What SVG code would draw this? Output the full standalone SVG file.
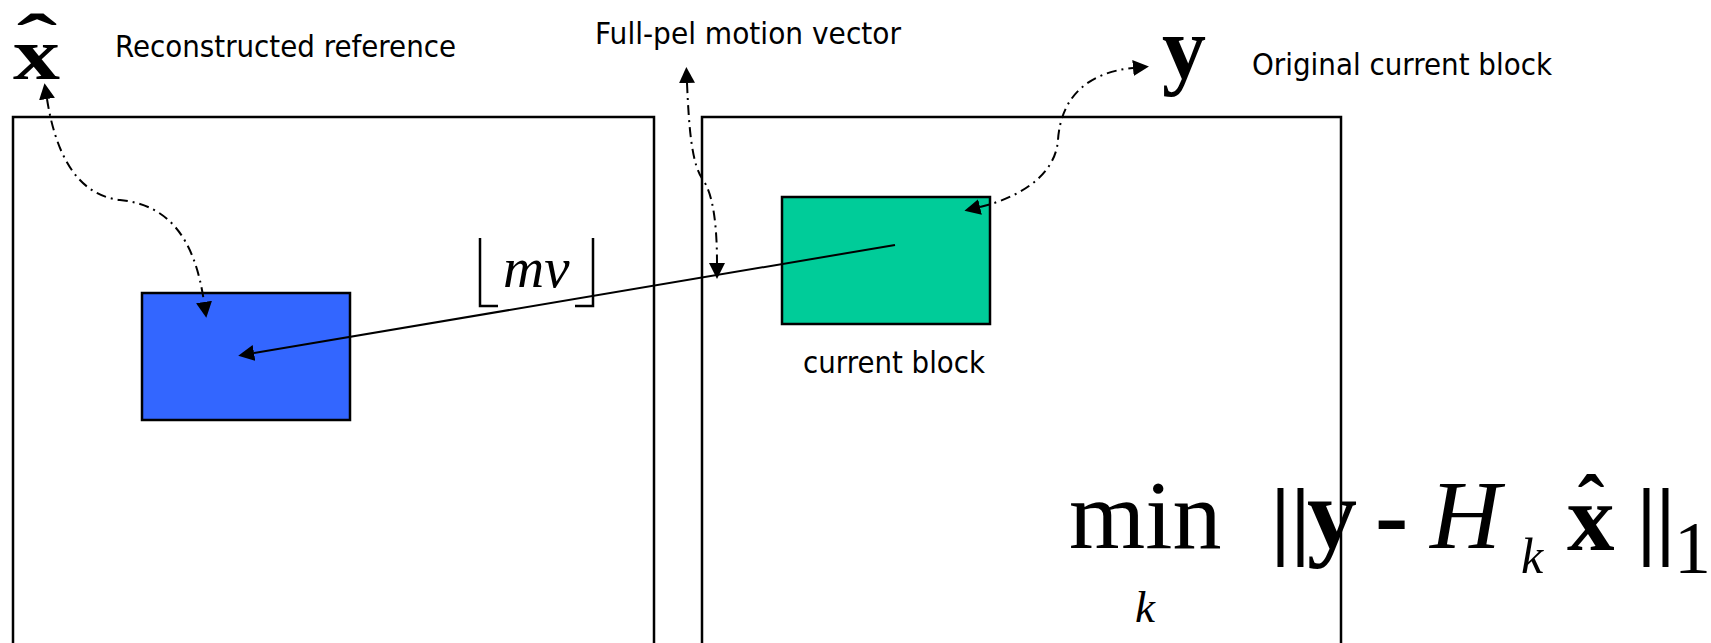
<svg xmlns="http://www.w3.org/2000/svg" width="1711" height="643" viewBox="0 0 1711 643">
<style>
.frame{fill:none;stroke:#000;stroke-width:2.5}
.blk{stroke:#000;stroke-width:2.5}
.lbl{font-family:"DejaVu Sans","Liberation Sans",sans-serif;font-size:31px;fill:#000}
.ser{font-family:"Liberation Serif","Times New Roman",serif;fill:#000}
.bold{font-weight:bold}
.it{font-style:italic}
.dd{fill:none;stroke:#000;stroke-width:2;stroke-dasharray:10 5 2 5}
.solid{fill:none;stroke:#000;stroke-width:2}
.br{fill:none;stroke:#000;stroke-width:2.5}
</style>
<defs>
<marker id="ah" viewBox="0 0 16 16" refX="0" refY="8" markerWidth="16" markerHeight="16" markerUnits="userSpaceOnUse" orient="auto-start-reverse">
<path d="M0,0 L16,8 L0,16 z" fill="#000"/>
</marker>
</defs>
<rect width="1711" height="643" fill="#fff"/>

<g id="ref-frame"><rect class="frame" x="13" y="117" width="641" height="560"/></g>
<g id="cur-frame"><rect class="frame" x="702" y="117" width="639" height="560"/></g>

<g id="ref-block"><rect class="blk" x="142" y="293" width="208" height="127" fill="#3366FF"/></g>
<g id="cur-block"><rect class="blk" x="782" y="197" width="208" height="127" fill="#00CC99"/>
<text class="lbl" x="803" y="373" textLength="182" lengthAdjust="spacingAndGlyphs">current block</text></g>

<g id="xhat-label">
<text class="ser bold" x="0" y="0" font-size="74" transform="translate(13,79) scale(1.27,1)">x</text>
<text class="ser bold" x="0" y="0" font-size="90" text-anchor="middle" transform="translate(37,64) scale(1.35,0.8)">ˆ</text>
<text class="lbl" x="115" y="57" textLength="341" lengthAdjust="spacingAndGlyphs">Reconstructed reference</text>
</g>

<g id="fullpel-label">
<text class="lbl" x="595" y="44" textLength="306" lengthAdjust="spacingAndGlyphs">Full-pel motion vector</text>
</g>

<g id="y-label">
<text class="ser bold" x="1162" y="78" font-size="88">y</text>
<text class="lbl" x="1252" y="75" textLength="300" lengthAdjust="spacingAndGlyphs">Original current block</text>
</g>

<g id="mv-label">
<polyline class="br" points="480,238 480,306 498,306"/>
<polyline class="br" points="575,306 593,306 593,238"/>
<text class="ser it" x="503" y="287" font-size="57">mv</text>
</g>

<g id="formula">
<text class="ser" x="1069" y="548" font-size="98">min</text>
<text class="ser it" x="1135" y="622" font-size="45">k</text>
<text class="ser bold" x="1271" y="548" font-size="86">|</text>
<text class="ser bold" x="1291" y="548" font-size="86">|</text>
<text class="ser bold" x="1307" y="548" font-size="100">y</text>
<text class="ser bold" x="1375" y="548" font-size="100">-</text>
<text class="ser it" x="1430" y="548" font-size="98">H</text>
<text class="ser it" x="1521" y="573" font-size="50">k</text>
<text class="ser bold" x="1567" y="550" font-size="95">x</text>
<text class="ser bold" x="1591" y="531" font-size="80" text-anchor="middle">ˆ</text>
<text class="ser bold" x="1637" y="548" font-size="86">|</text>
<text class="ser bold" x="1656" y="548" font-size="86">|</text>
<text class="ser" x="1674" y="573" font-size="74">1</text>
</g>

<g id="connectors">
<line class="solid" x1="895" y1="245" x2="254" y2="353" marker-end="url(#ah)"/>
<path class="dd" d="M47,99 C55,150 75,195 120,200 C170,205 195,240 204,302" marker-start="url(#ah)" marker-end="url(#ah)"/>
<path class="dd" d="M687,83 C689,130 692,165 703,180 C714,195 717,230 717,263" marker-start="url(#ah)" marker-end="url(#ah)"/>
<path class="dd" d="M980,207 C1010,200 1055,180 1058,140 C1061,95 1090,72 1133,68" marker-start="url(#ah)" marker-end="url(#ah)"/>
</g>
</svg>
